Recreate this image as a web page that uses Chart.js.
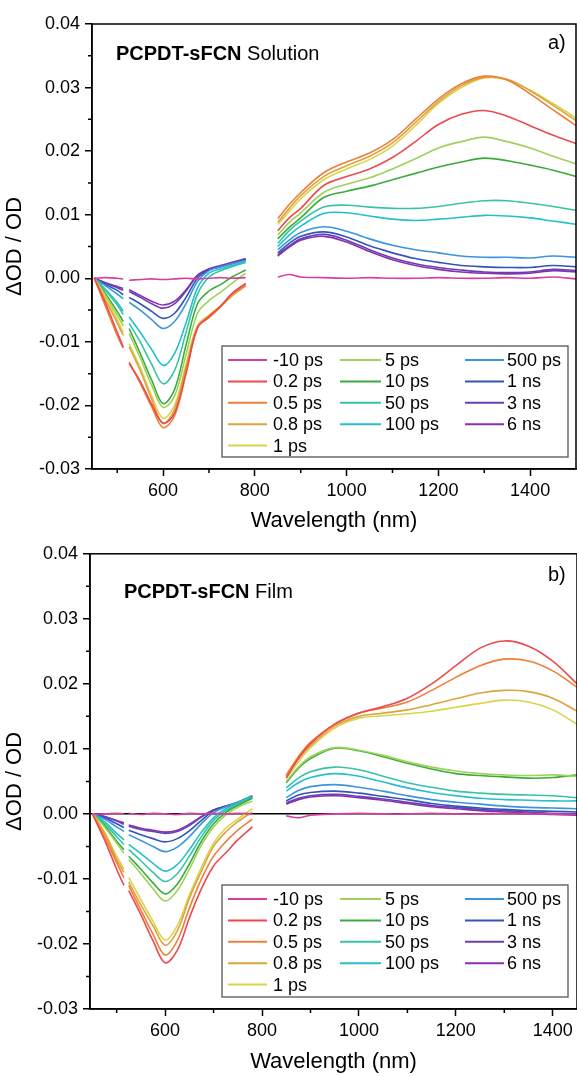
<!DOCTYPE html>
<html>
<head>
<meta charset="utf-8">
<script src="https://cdn.jsdelivr.net/npm/chart.js@4.4.1/dist/chart.umd.min.js"></script>
<style>
  body { margin: 0; background: #fff; }
  canvas { display: block; }
</style>
</head>
<body>
<canvas id="solChart" width="577" height="538"></canvas>
<canvas id="filmChart" width="577" height="538"></canvas>
<script>
// delay times and their colours
const labels = ['-10 ps', '0.2 ps', '0.5 ps', '0.8 ps', '1 ps', '5 ps', '10 ps', '50 ps', '100 ps', '500 ps', '1 ns', '3 ns', '6 ns'];
const colors = ['#d63fa0', '#ec4a4f', '#ee7f3a', '#dca43c', '#d9d44a', '#9dd35a', '#3aab3c', '#36c4a4', '#25bfd0', '#3b95db', '#3355b8', '#6a3fb5', '#8b2fae'];

const xTicks = [600, 800, 1000, 1200, 1400];
const xMinor = [500, 700, 900, 1100, 1300];
const yTicks = [-0.03, -0.02, -0.01, 0, 0.01, 0.02, 0.03, 0.04];
const yMinor = [-0.025, -0.015, -0.005, 0.005, 0.015, 0.025, 0.035];

// a) solution, wavelengths (nm); 519 and 815 are the gaps (null)
const solWl = [450, 475, 500, 513, 519, 526, 550, 575, 600, 625, 650, 675, 700, 725, 750, 780, 815,
  850, 875, 900, 950, 1000, 1050, 1100, 1150, 1200, 1250, 1300, 1350, 1400, 1450, 1500];

const solM10 = [0, 0.0001, 0, -0.0001, null, -0.0003, -0.0002, -0.0001, -0.0002, -0.0001, 0, -0.0001, 0, 0.0001, 0, 0.0001, null,
  0.0002, 0.0006, 0.0002, 0.0001, 0, 0.0001, 0, 0, 0.0001, 0, 0, 0.0001, 0, 0.0002, -0.0001];
const sol02 = [0, -0.004, -0.0085, -0.0108, null, -0.0134, -0.0162, -0.0198, -0.0228, -0.0212, -0.0148, -0.0078, -0.006, -0.0044, -0.0024, -0.0008, null,
  0.0075, 0.0095, 0.011, 0.0146, 0.016, 0.0172, 0.019, 0.0215, 0.0242, 0.0258, 0.0264, 0.0255, 0.024, 0.0225, 0.0212];
const sol05 = [0, -0.0045, -0.009, -0.011, null, -0.0132, -0.0165, -0.0202, -0.0235, -0.0216, -0.015, -0.0077, -0.0062, -0.0045, -0.0025, -0.0011, null,
  0.0094, 0.0116, 0.0135, 0.0166, 0.0183, 0.0197, 0.0218, 0.025, 0.0282, 0.0306, 0.0318, 0.0312, 0.029, 0.0265, 0.024];
const sol08 = [0, -0.0035, -0.007, -0.009, null, -0.0108, -0.0145, -0.019, -0.0228, -0.0206, -0.014, -0.0076, -0.006, -0.0045, -0.0028, -0.0012, null,
  0.0088, 0.011, 0.013, 0.016, 0.0177, 0.0192, 0.0213, 0.0245, 0.0278, 0.0303, 0.0316, 0.0313, 0.0295, 0.0272, 0.0248];
const sol1 = [0, -0.003, -0.0065, -0.0085, null, -0.0103, -0.014, -0.0185, -0.022, -0.02, -0.0135, -0.0074, -0.0058, -0.0043, -0.0025, -0.0008, null,
  0.0085, 0.0105, 0.0125, 0.0155, 0.0172, 0.0187, 0.0208, 0.024, 0.0275, 0.03, 0.0315, 0.0312, 0.0296, 0.0275, 0.0252];
const sol5 = [0, -0.0028, -0.0058, -0.0075, null, -0.0087, -0.0125, -0.0168, -0.0203, -0.0185, -0.012, -0.0055, -0.0035, -0.0022, -0.0008, 0.0008, null,
  0.0068, 0.0088, 0.0103, 0.0135, 0.0148, 0.0158, 0.0172, 0.0188, 0.0205, 0.0215, 0.0222, 0.0215, 0.0205, 0.0192, 0.018];
const sol10 = [0, -0.0025, -0.0052, -0.0068, null, -0.0079, -0.0118, -0.016, -0.0197, -0.0175, -0.0105, -0.004, -0.002, -0.001, 0.0002, 0.0013, null,
  0.0062, 0.008, 0.0095, 0.0127, 0.0137, 0.0145, 0.0155, 0.0165, 0.0175, 0.0183, 0.0189, 0.0185, 0.0178, 0.017, 0.016];
const sol50 = [0, -0.002, -0.0042, -0.0057, null, -0.0071, -0.01, -0.0135, -0.0166, -0.0145, -0.0085, -0.0025, 0.0002, 0.0012, 0.0018, 0.0025, null,
  0.0055, 0.0075, 0.009, 0.0112, 0.0115, 0.0112, 0.011, 0.011, 0.0113, 0.0118, 0.0122, 0.0122, 0.0118, 0.0113, 0.0107];
const sol100 = [0, -0.0018, -0.0038, -0.0052, null, -0.0061, -0.0085, -0.0112, -0.0137, -0.0118, -0.007, -0.0015, 0.0008, 0.0015, 0.002, 0.0027, null,
  0.005, 0.0068, 0.0082, 0.0102, 0.0103, 0.0098, 0.0093, 0.0091, 0.0093, 0.0096, 0.0099, 0.0098, 0.0095, 0.009, 0.0085];
const sol500 = [0, -0.0012, -0.0025, -0.0032, null, -0.0038, -0.005, -0.0065, -0.0079, -0.0068, -0.004, -0.0005, 0.0012, 0.0018, 0.0023, 0.0028, null,
  0.0045, 0.006, 0.0072, 0.0081, 0.0074, 0.0062, 0.0052, 0.0045, 0.004, 0.0035, 0.0033, 0.0033, 0.0032, 0.0035, 0.0033];
const sol1ns = [0, -0.001, -0.0019, -0.0026, null, -0.003, -0.004, -0.0052, -0.0063, -0.0055, -0.003, 0, 0.0013, 0.0018, 0.0023, 0.0029, null,
  0.004, 0.0055, 0.0066, 0.0073, 0.0065, 0.0051, 0.004, 0.0031, 0.0025, 0.002, 0.0018, 0.0017, 0.0017, 0.002, 0.0018];
const sol3ns = [0, -0.0008, -0.0015, -0.0019, null, -0.0021, -0.003, -0.004, -0.0047, -0.004, -0.002, 0.0004, 0.0014, 0.0019, 0.0024, 0.003, null,
  0.0037, 0.0051, 0.0062, 0.0069, 0.006, 0.0045, 0.0032, 0.0023, 0.0017, 0.0013, 0.001, 0.0009, 0.001, 0.0014, 0.0012];
const sol6ns = [0, -0.0007, -0.0013, -0.0016, null, -0.0018, -0.0027, -0.0036, -0.0042, -0.0036, -0.0018, 0.0005, 0.0015, 0.002, 0.0025, 0.0031, null,
  0.0035, 0.0049, 0.006, 0.0066, 0.0057, 0.0042, 0.0029, 0.002, 0.0014, 0.001, 0.0008, 0.0007, 0.0008, 0.0012, 0.001];

// b) film
const filmWl = [450, 475, 500, 515, 520, 525, 550, 575, 600, 625, 650, 675, 700, 725, 750, 780, 815,
  850, 875, 900, 950, 1000, 1050, 1100, 1150, 1200, 1250, 1300, 1350, 1400, 1450];

const filmM10 = [0, 0, 0.0001, 0, null, 0.0001, -0.0001, 0.0001, 0, -0.0001, 0.0001, 0, 0.0001, 0, 0.0001, 0, null,
  -0.0003, -0.0006, -0.0002, 0, 0.0001, 0, 0, 0.0001, 0, 0, 0.0001, 0, 0, -0.0001];
const film02 = [0, -0.004, -0.0085, -0.011, null, -0.0118, -0.0155, -0.0195, -0.0229, -0.021, -0.016, -0.0115, -0.008, -0.006, -0.004, -0.002, null,
  0.0055, 0.0085, 0.0108, 0.0138, 0.0155, 0.0165, 0.0178, 0.02, 0.0228, 0.0255, 0.0266, 0.0258, 0.0235, 0.02];
const film05 = [0, -0.0035, -0.0075, -0.0098, null, -0.011, -0.0148, -0.0185, -0.0217, -0.0195, -0.0145, -0.01, -0.0065, -0.0043, -0.0025, -0.0008, null,
  0.006, 0.0088, 0.011, 0.0138, 0.0155, 0.0163, 0.0172, 0.019, 0.021, 0.0228, 0.0238, 0.0235, 0.022, 0.0195];
const film08 = [0, -0.003, -0.007, -0.009, null, -0.0105, -0.014, -0.0172, -0.0202, -0.018, -0.013, -0.0088, -0.005, -0.0028, -0.0012, 0.0003, null,
  0.0058, 0.0085, 0.0105, 0.0135, 0.015, 0.0155, 0.016, 0.0168, 0.0177, 0.0186, 0.019, 0.0188, 0.0178, 0.0158];
const film1 = [0, -0.0028, -0.0065, -0.0085, null, -0.0098, -0.0132, -0.0165, -0.0194, -0.0172, -0.0125, -0.0082, -0.0045, -0.0022, -0.0008, 0.0008, null,
  0.0055, 0.008, 0.0102, 0.0132, 0.0147, 0.0151, 0.0154, 0.0158, 0.0164, 0.017, 0.0175, 0.0172, 0.016, 0.0138];
const film5 = [0, -0.002, -0.0045, -0.006, null, -0.007, -0.0092, -0.0115, -0.0134, -0.0118, -0.0085, -0.0048, -0.002, -0.0002, 0.001, 0.002, null,
  0.005, 0.0072, 0.0088, 0.0102, 0.0098, 0.009, 0.008, 0.0072, 0.0066, 0.0062, 0.006, 0.0059, 0.006, 0.0058];
const film10 = [0, -0.0018, -0.0042, -0.0055, null, -0.0065, -0.0085, -0.0106, -0.0123, -0.0108, -0.0077, -0.0042, -0.0015, 0.0002, 0.0013, 0.0024, null,
  0.0048, 0.007, 0.0085, 0.0101, 0.0097, 0.0088, 0.0078, 0.0069, 0.0062, 0.0059, 0.0057, 0.0055, 0.0056, 0.006];
const film50 = [0, -0.0015, -0.0035, -0.0047, null, -0.0055, -0.0072, -0.009, -0.0104, -0.0092, -0.0065, -0.0035, -0.001, 0.0005, 0.0015, 0.0025, null,
  0.004, 0.0055, 0.0065, 0.0072, 0.0068, 0.0058, 0.0048, 0.0041, 0.0035, 0.0032, 0.003, 0.0029, 0.0028, 0.0025];
const film100 = [0, -0.0012, -0.003, -0.004, null, -0.0047, -0.0061, -0.0076, -0.0088, -0.0078, -0.0055, -0.0028, -0.0006, 0.0008, 0.0017, 0.0027, null,
  0.0035, 0.0048, 0.0056, 0.0062, 0.0058, 0.0049, 0.004, 0.0033, 0.0028, 0.0024, 0.0022, 0.0021, 0.002, 0.002];
const film500 = [0, -0.0008, -0.002, -0.0027, null, -0.0032, -0.0041, -0.005, -0.0058, -0.0051, -0.0035, -0.0015, 0.0002, 0.0011, 0.0018, 0.0028, null,
  0.0025, 0.0036, 0.0042, 0.0045, 0.0041, 0.0035, 0.0028, 0.0022, 0.0018, 0.0015, 0.0012, 0.001, 0.0009, 0.0008];
const film1ns = [0, -0.0006, -0.0015, -0.0021, null, -0.0025, -0.0032, -0.0038, -0.0043, -0.0038, -0.0026, -0.001, 0.0005, 0.0012, 0.0018, 0.0028, null,
  0.002, 0.0029, 0.0033, 0.0035, 0.0032, 0.0027, 0.0022, 0.0016, 0.0012, 0.0009, 0.0007, 0.0005, 0.0004, 0.0003];
const film3ns = [0, -0.0004, -0.0011, -0.0016, null, -0.0019, -0.0024, -0.0027, -0.003, -0.0027, -0.0018, -0.0005, 0.0006, 0.0012, 0.0017, 0.0027, null,
  0.0017, 0.0024, 0.0028, 0.003, 0.0027, 0.0023, 0.0018, 0.0013, 0.001, 0.0007, 0.0005, 0.0003, 0.0001, 0];
const film6ns = [0, -0.0004, -0.001, -0.0014, null, -0.0017, -0.0022, -0.0025, -0.0028, -0.0025, -0.0016, -0.0004, 0.0006, 0.0011, 0.0016, 0.0026, null,
  0.0015, 0.0022, 0.0026, 0.0028, 0.0025, 0.0021, 0.0016, 0.0011, 0.0008, 0.0005, 0.0003, 0.0001, -0.0001, -0.0002];

const solSeries = [solM10, sol02, sol05, sol08, sol1, sol5, sol10, sol50, sol100, sol500, sol1ns, sol3ns, sol6ns];
const filmSeries = [filmM10, film02, film05, film08, film1, film5, film10, film50, film100, film500, film1ns, film3ns, film6ns];

const FONT = "'Liberation Sans', Arial, sans-serif";
Chart.defaults.font.family = FONT;
Chart.defaults.color = '#000';

function toPoints(wl, vals) {
  return wl.map((x, i) => ({ x: x, y: vals[i] }));
}

// frame, minor ticks, sample note and boxed legend
const panelPlugin = {
  id: 'panel',
  afterDatasetsDraw(chart, args, o) {
    const { ctx, chartArea: a, scales: { x, y } } = chart;
    ctx.save();
    ctx.strokeStyle = '#000';
    ctx.lineWidth = 1.5;
    ctx.strokeRect(a.left, a.top, a.right - a.left, a.bottom - a.top);
    ctx.beginPath();
    xMinor.forEach(v => {
      const px = x.getPixelForValue(v);
      ctx.moveTo(px, a.bottom);
      ctx.lineTo(px, a.bottom + 4);
    });
    yMinor.forEach(v => {
      const py = y.getPixelForValue(v);
      ctx.moveTo(a.left, py);
      ctx.lineTo(a.left - 4, py);
    });
    ctx.stroke();

    ctx.fillStyle = '#000';
    ctx.textBaseline = 'middle';
    ctx.font = 'bold 20px ' + FONT;
    ctx.fillText('PCPDT-sFCN', o.noteX, o.noteY);
    const w = ctx.measureText('PCPDT-sFCN').width;
    ctx.font = '20px ' + FONT;
    ctx.fillText(' ' + o.sample, o.noteX + w, o.noteY);
    ctx.fillText(o.tag, o.tagX, o.tagY);

    const L = o.legend;
    ctx.fillStyle = '#fff';
    ctx.fillRect(L.x, L.y, L.w, L.h);
    ctx.strokeStyle = '#555';
    ctx.lineWidth = 1.3;
    ctx.strokeRect(L.x, L.y, L.w, L.h);
    const cols = [[6, 45, 51], [118, 159, 163], [243, 282, 285]];
    ctx.font = '18px ' + FONT;
    chart.data.datasets.forEach((ds, i) => {
      const c = i < 5 ? 0 : (i < 9 ? 1 : 2);
      const r = i < 5 ? i : (i < 9 ? i - 5 : i - 9);
      const cy = L.y + 14 + r * 21.4;
      ctx.strokeStyle = ds.borderColor;
      ctx.lineWidth = 2;
      ctx.beginPath();
      ctx.moveTo(L.x + cols[c][0], cy);
      ctx.lineTo(L.x + cols[c][1], cy);
      ctx.stroke();
      ctx.fillStyle = '#000';
      ctx.fillText(ds.label, L.x + cols[c][2], cy + 1);
    });
    ctx.restore();
  }
};

function makeChart(id, wl, series, p) {
  return new Chart(document.getElementById(id), {
    type: 'line',
    data: {
      datasets: series.map((vals, i) => ({
        label: labels[i],
        data: toPoints(wl, vals),
        borderColor: colors[i],
        borderWidth: 1.6,
        pointRadius: 0,
        tension: 0.35,
        fill: false
      }))
    },
    options: {
      responsive: false,
      animation: false,
      layout: { padding: { top: p.top, right: p.right, left: 0, bottom: 0 } },
      plugins: {
        legend: { display: false },
        tooltip: { enabled: false },
        panel: p.panel
      },
      scales: {
        x: {
          type: 'linear',
          min: 445,
          max: p.xMax,
          afterBuildTicks: s => { s.ticks = xTicks.map(v => ({ value: v })); },
          afterFit: s => { s.height = p.xH; },
          ticks: { font: { size: 18 }, color: '#000', padding: 4, maxRotation: 0, autoSkip: false, callback: v => String(v) },
          grid: { drawOnChartArea: false, tickLength: 7, tickColor: '#000', tickWidth: 1.5 },
          border: { color: '#000', width: 1.5 },
          title: { display: true, text: 'Wavelength (nm)', font: { size: 22 }, color: '#000', padding: { top: 0, bottom: p.titlePad } }
        },
        y: {
          min: -0.03,
          max: 0.04,
          afterBuildTicks: s => { s.ticks = yTicks.map(v => ({ value: v })); },
          afterFit: s => { s.width = p.yW; },
          ticks: { font: { size: 18 }, color: '#000', padding: 5, callback: v => v.toFixed(2) },
          grid: {
            drawOnChartArea: p.zeroLine,
            color: c => (c.tick && Math.abs(c.tick.value) < 1e-9) ? '#000' : 'rgba(0,0,0,0)',
            lineWidth: 1.5,
            tickLength: 7,
            tickColor: '#000',
            tickWidth: 1.5
          },
          border: { color: '#000', width: 1.5 },
          title: { display: true, text: 'ΔOD / OD', font: { size: 22 }, color: '#000', padding: { top: 2, bottom: 0 } }
        }
      }
    },
    plugins: [panelPlugin]
  });
}

makeChart('solChart', solWl, solSeries, {
  xMax: 1500, top: 24, right: 1, xH: 69, yW: 92, titlePad: 4, zeroLine: false,
  panel: { sample: 'Solution', noteX: 116, noteY: 54, tag: 'a)', tagX: 548, tagY: 43,
    legend: { x: 222, y: 346, w: 346, h: 111 } }
});

makeChart('filmChart', filmWl, filmSeries, {
  xMax: 1450, top: 10, right: 0, xH: 67, yW: 90, titlePad: 1, zeroLine: true,
  panel: { sample: 'Film', noteX: 124, noteY: 54, tag: 'b)', tagX: 548, tagY: 37,
    legend: { x: 222, y: 347, w: 346, h: 112 } }
});
</script>
</body>
</html>
